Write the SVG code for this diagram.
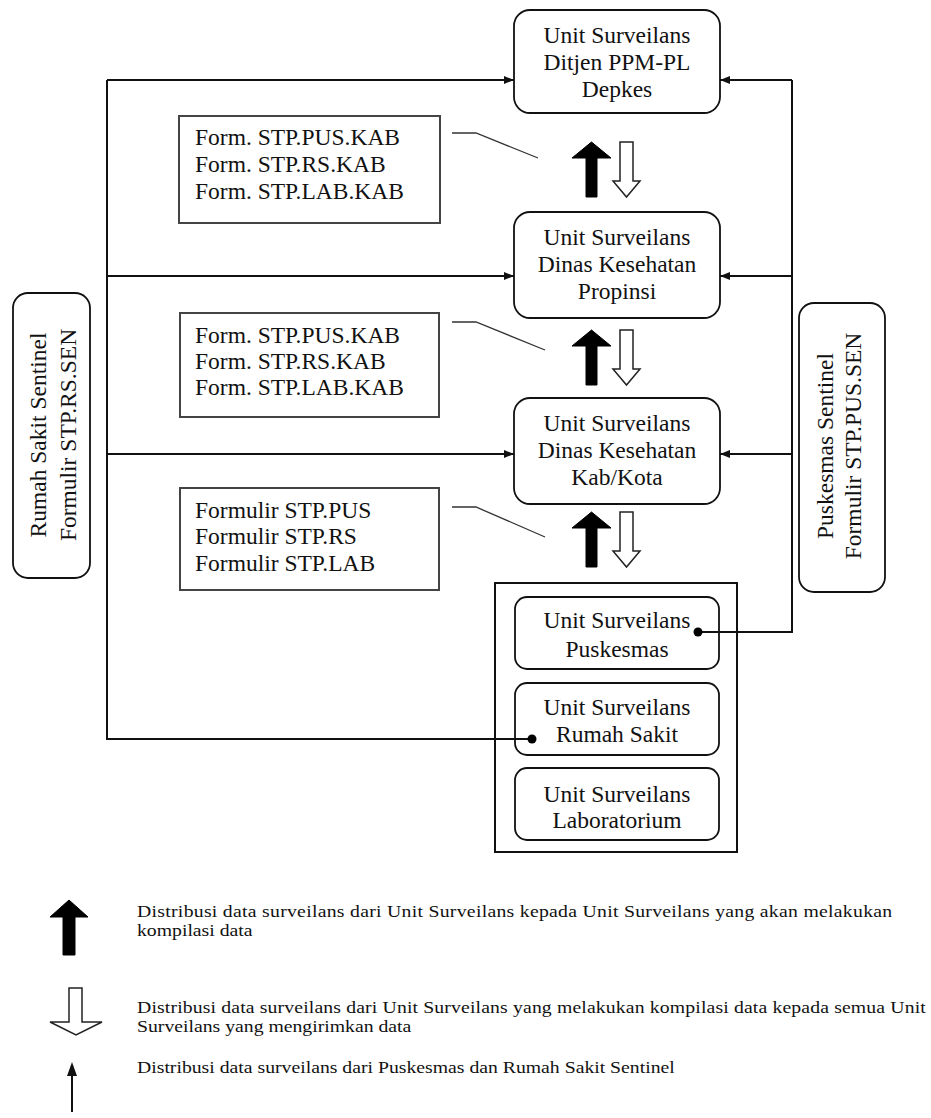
<svg xmlns="http://www.w3.org/2000/svg" width="931" height="1118" viewBox="0 0 931 1118">
<style>
.node{fill:#fff;stroke:#111;stroke-width:1.8}
.form{fill:#fff;stroke:#444;stroke-width:2}
.t{font-family:"Liberation Serif","Times New Roman",serif;font-size:23.5px;fill:#111}
.c{text-anchor:middle}
.lg{font-family:"Liberation Serif","Times New Roman",serif;font-size:17px;fill:#111}
.wire{fill:none;stroke:#111;stroke-width:2}
.lead{fill:none;stroke:#333;stroke-width:1.3}
.up{fill:#000;stroke:#000;stroke-width:1}
.down{fill:#fff;stroke:#222;stroke-width:1.5}
</style>
<defs>
<marker id="ah" markerWidth="10" markerHeight="8" refX="10" refY="4" orient="auto" markerUnits="userSpaceOnUse">
<path d="M0,0 L10,4 L0,8 Z" fill="#111"/>
</marker>
</defs>

<g id="ditjen">
<rect class="node" x="514" y="10" width="206" height="103" rx="16"/>
<text class="t c" x="617" y="43">Unit Surveilans</text>
<text class="t c" x="617" y="70">Ditjen PPM-PL</text>
<text class="t c" x="617" y="97">Depkes</text>
</g>

<g id="propinsi">
<rect class="node" x="514" y="212" width="206" height="106" rx="16"/>
<text class="t c" x="617" y="245">Unit Surveilans</text>
<text class="t c" x="617" y="272">Dinas Kesehatan</text>
<text class="t c" x="617" y="299">Propinsi</text>
</g>

<g id="kabkota">
<rect class="node" x="514" y="398" width="206" height="106" rx="16"/>
<text class="t c" x="617" y="431">Unit Surveilans</text>
<text class="t c" x="617" y="458">Dinas Kesehatan</text>
<text class="t c" x="617" y="485">Kab/Kota</text>
</g>

<g id="form1">
<rect class="form" x="179" y="116" width="261" height="107"/>
<text class="t" x="195" y="145">Form. STP.PUS.KAB</text>
<text class="t" x="195" y="172">Form. STP.RS.KAB</text>
<text class="t" x="195" y="199">Form. STP.LAB.KAB</text>
</g>

<g id="form2">
<rect class="form" x="180" y="313" width="259" height="104"/>
<text class="t" x="195" y="343">Form. STP.PUS.KAB</text>
<text class="t" x="195" y="369">Form. STP.RS.KAB</text>
<text class="t" x="195" y="395">Form. STP.LAB.KAB</text>
</g>

<g id="form3">
<rect class="form" x="180" y="488" width="259" height="102"/>
<text class="t" x="195" y="518">Formulir STP.PUS</text>
<text class="t" x="195" y="544">Formulir STP.RS</text>
<text class="t" x="195" y="571">Formulir STP.LAB</text>
</g>

<g id="rs-sentinel">
<rect class="node" x="13" y="293" width="77" height="285" rx="15"/>
<text class="t c" transform="translate(46,435) rotate(-90)">Rumah Sakit Sentinel</text>
<text class="t c" transform="translate(76,435) rotate(-90)">Formulir STP.RS.SEN</text>
</g>

<g id="pus-sentinel">
<rect class="node" x="799" y="303" width="86" height="289" rx="15"/>
<text class="t c" transform="translate(833,446) rotate(-90)">Puskesmas Sentinel</text>
<text class="t c" transform="translate(861,446) rotate(-90)">Formulir STP.PUS.SEN</text>
</g>

<g id="unit-group">
<rect x="495" y="583" width="242" height="269" fill="none" stroke="#111" stroke-width="2"/>
</g>

<g id="puskesmas">
<rect class="node" x="515" y="597" width="204" height="72" rx="12"/>
<text class="t c" x="617" y="628">Unit Surveilans</text>
<text class="t c" x="617" y="657">Puskesmas</text>
</g>

<g id="rumahsakit">
<rect class="node" x="515" y="683" width="204" height="72" rx="12"/>
<text class="t c" x="617" y="715">Unit Surveilans</text>
<text class="t c" x="617" y="742">Rumah Sakit</text>
</g>

<g id="laboratorium">
<rect class="node" x="515" y="768" width="204" height="72" rx="12"/>
<text class="t c" x="617" y="802">Unit Surveilans</text>
<text class="t c" x="617" y="828">Laboratorium</text>
</g>

<g id="connectors">
<path class="wire" d="M107,80 V739 H532"/>
<path class="wire" d="M107,80 H514" marker-end="url(#ah)"/>
<path class="wire" d="M107,276 H514" marker-end="url(#ah)"/>
<path class="wire" d="M107,454 H514" marker-end="url(#ah)"/>
<path class="wire" d="M698,632 H792 V80"/>
<path class="wire" d="M792,80 H720" marker-end="url(#ah)"/>
<path class="wire" d="M792,276 H720" marker-end="url(#ah)"/>
<path class="wire" d="M792,454 H720" marker-end="url(#ah)"/>
<circle cx="698" cy="632" r="4.5" fill="#000"/>
<circle cx="532" cy="739" r="4.5" fill="#000"/>
<path class="lead" d="M452,133 H476 L538,158"/>
<path class="lead" d="M452,322 H476 L545,350"/>
<path class="lead" d="M452,507 H476 L545,537"/>
<path class="up" d="M591.5,142 L611,158 L597,158 L597,197 L586,197 L586,158 L572,158 Z"/>
<path class="down" d="M620,142 L633,142 L633,181 L640,181 L626.5,197 L613,181 L620,181 Z"/>
<path class="up" d="M591.5,330 L611,346 L597,346 L597,385 L586,385 L586,346 L572,346 Z"/>
<path class="down" d="M620,330 L633,330 L633,369 L640,369 L626.5,385 L613,369 L620,369 Z"/>
<path class="up" d="M591.5,512 L611,528 L597,528 L597,567 L586,567 L586,528 L572,528 Z"/>
<path class="down" d="M620,512 L633,512 L633,551 L640,551 L626.5,567 L613,551 L620,551 Z"/>
</g>

<g id="legend">
<path class="up" d="M69,900 L88,917 L75,917 L75,955 L63,955 L63,917 L50,917 Z"/>
<path class="down" d="M69,988 L82,988 L82,1022 L102,1022 L76,1035 L50,1022 L69,1022 Z"/>
<line x1="72" y1="1066" x2="72" y2="1112" stroke="#111" stroke-width="2"/>
<path d="M72,1062 L77,1076 L67,1076 Z" fill="#111"/>
<g transform="translate(137,0) scale(1.16,1)">
<text class="lg" x="0" y="917" textLength="651" lengthAdjust="spacing">Distribusi data surveilans dari Unit Surveilans kepada Unit Surveilans yang akan melakukan</text>
<text class="lg" x="0" y="936">kompilasi data</text>
<text class="lg" x="0" y="1013" textLength="680" lengthAdjust="spacing">Distribusi data surveilans dari Unit Surveilans yang melakukan kompilasi data kepada semua Unit</text>
<text class="lg" x="0" y="1032">Surveilans yang mengirimkan data</text>
<text class="lg" x="0" y="1073">Distribusi data surveilans dari Puskesmas dan Rumah Sakit Sentinel</text>
</g>
</g>
</svg>
